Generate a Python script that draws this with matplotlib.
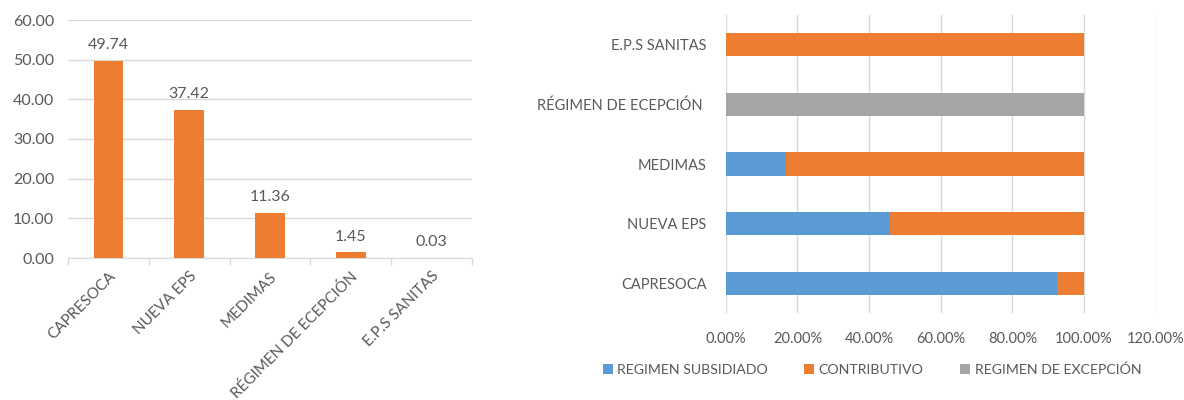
import numpy as np
import matplotlib
matplotlib.use("Agg")
import matplotlib.pyplot as plt
from matplotlib.ticker import PercentFormatter, FixedLocator

plt.rcParams['font.family'] = ['Lato', 'DejaVu Sans']

# left chart: share of affiliates per EPS
eps_left = ["CAPRESOCA", "NUEVA EPS", "MEDIMAS", "RÉGIMEN DE ECEPCIÓN", "E.P.S SANITAS"]
share = [49.74, 37.42, 11.36, 1.45, 0.03]

# right chart: regime composition per EPS (bottom to top)
eps_right = ["CAPRESOCA", "NUEVA EPS", "MEDIMAS", "RÉGIMEN DE ECEPCIÓN ", "E.P.S SANITAS"]
subsidiado = [0.926, 0.459, 0.169, 0.0, 0.0]
contributivo = [0.074, 0.541, 0.831, 0.0, 1.0]
excepcion = [0.0, 0.0, 0.0, 1.0, 0.0]
series_names = ["REGIMEN SUBSIDIADO", "CONTRIBUTIVO", "REGIMEN DE EXCEPCIÓN"]

ORANGE = "#ED7D31"
BLUE = "#5B9BD5"
GREY = "#A5A5A5"
TXT = "#595959"
GRID = "#D9D9D9"

fig = plt.figure(figsize=(11.84, 4.0), dpi=100)

# ---- left: vertical bars ----
ax1 = fig.add_axes([0.0575, 0.355, 0.341, 0.595])
x = np.arange(len(eps_left))
ax1.bar(x, share, width=0.37, color=ORANGE, zorder=3)
for xi, v in zip(x, share):
    ax1.text(xi, v + 2.2, f"{v:.2f}", ha="center", va="bottom", fontsize=11.5, color=TXT)
ax1.set_xlim(-0.5, len(eps_left) - 0.5)
ax1.set_ylim(0, 60)
ax1.set_yticks(np.arange(0, 61, 10))
ax1.set_yticklabels([f"{v:.2f}" for v in np.arange(0, 61, 10)])
ax1.yaxis.grid(True, color=GRID, lw=1, zorder=0)
for s in ["top", "right", "left"]:
    ax1.spines[s].set_visible(False)
ax1.spines["bottom"].set_color(GRID)
ax1.tick_params(axis="y", length=0, labelsize=11.5, labelcolor=TXT, pad=10)
ax1.set_xticks(x)
ax1.set_xticklabels(eps_left, rotation=45, ha="right", rotation_mode="anchor",
                    fontsize=11, color=TXT)
ax1.tick_params(axis="x", length=0, pad=8)
ax1.xaxis.set_minor_locator(FixedLocator(np.arange(-0.5, len(eps_left), 1.0)))
ax1.tick_params(axis="x", which="minor", length=5, color=GRID, width=1)

# ---- right: stacked horizontal bars ----
ax2 = fig.add_axes([0.613, 0.2175, 0.363, 0.745])
y = np.arange(len(eps_right))
h = 0.39
ax2.barh(y, subsidiado, height=h, color=BLUE, label=series_names[0], zorder=3)
ax2.barh(y, contributivo, height=h, left=subsidiado, color=ORANGE,
         label=series_names[1], zorder=3)
left3 = np.array(subsidiado) + np.array(contributivo)
ax2.barh(y, excepcion, height=h, left=left3, color=GREY,
         label=series_names[2], zorder=3)
ax2.set_xlim(0, 1.2)
ax2.set_ylim(-0.5, len(eps_right) - 0.5)
ax2.set_xticks(np.arange(0, 1.21, 0.2))
ax2.xaxis.set_major_formatter(PercentFormatter(1.0, decimals=2))
ax2.set_yticks(y)
ax2.set_yticklabels(eps_right)
ax2.xaxis.grid(True, color=GRID, lw=1, zorder=0)
for s in ax2.spines.values():
    s.set_visible(False)
ax2.tick_params(axis="both", length=0, labelsize=10.5, labelcolor=TXT)
ax2.tick_params(axis="x", pad=14)
ax2.tick_params(axis="y", pad=14)
ax2.legend(loc="upper center", bbox_to_anchor=(0.34, -0.125), ncol=3, frameon=False,
           fontsize=10.2, labelcolor=TXT, handlelength=0.7, handleheight=0.7,
           handletextpad=0.3, columnspacing=2.6)

fig.savefig("out.png", dpi=100)
